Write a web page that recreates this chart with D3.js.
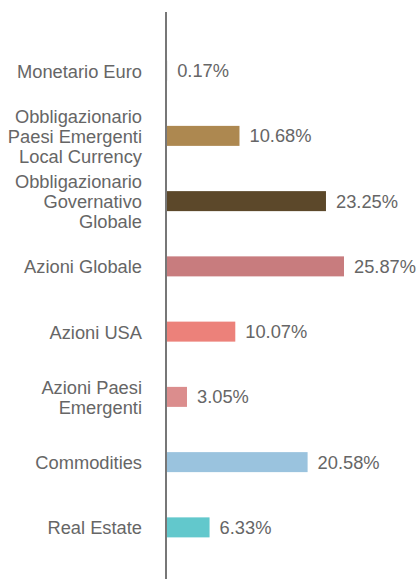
<!DOCTYPE html>
<html>
<head>
<meta charset="utf-8">
<script src="https://cdn.jsdelivr.net/npm/d3@7"></script>
<style>
  html, body { margin: 0; padding: 0; background: #fff; }
  svg { display: block; }
</style>
</head>
<body>
<svg id="chart" width="416" height="579"></svg>
<script>
// Asset classes (label lines) and their weights in %
const categories = [
  ["Monetario Euro"],
  ["Obbligazionario", "Paesi Emergenti", "Local Currency"],
  ["Obbligazionario", "Governativo", "Globale"],
  ["Azioni Globale"],
  ["Azioni USA"],
  ["Azioni Paesi", "Emergenti"],
  ["Commodities"],
  ["Real Estate"]
];
const values = [0.17, 10.68, 23.25, 25.87, 10.07, 3.05, 20.58, 6.33];
const colors = ["#A9A9A9", "#AD8850", "#5C482A", "#C87C7E", "#EC817A", "#DB8D8D", "#9AC3DE", "#62C8CC"];

const W = 416, H = 579;
const axisX = 166;
const barH = 20;
const fontSize = 18.3;
const textColor = "#666666";

const svg = d3.select("#chart");
const keys = categories.map((c, i) => i);

const step = 65.25;
const p = 1 - barH / step;
const y = d3.scaleBand()
  .domain(keys)
  .range([38, 38 + step * keys.length])
  .paddingInner(p)
  .paddingOuter(p / 2);

const x = d3.scaleLinear()
  .domain([0, 25.87])
  .range([axisX, 344]);

// Bars
svg.append("g").selectAll("rect")
  .data(keys)
  .join("rect")
  .attr("x", axisX)
  .attr("y", i => y(i))
  .attr("width", i => x(values[i]) - axisX)
  .attr("height", y.bandwidth())
  .attr("fill", i => colors[i]);

// Vertical axis line
svg.append("line")
  .attr("x1", axisX).attr("x2", axisX)
  .attr("y1", 12).attr("y2", H)
  .attr("stroke", "#777")
  .attr("stroke-width", 2);

// Category labels (right aligned, multi-line)
const lineH = 20;
const labels = svg.append("g")
  .attr("font-family", "'Liberation Sans', Arial, Helvetica, sans-serif")
  .attr("font-size", fontSize)
  .attr("fill", textColor);

keys.forEach(i => {
  const lines = categories[i];
  const cy = y(i) + y.bandwidth() / 2;
  const t = labels.append("text")
    .attr("text-anchor", "end")
    .attr("dominant-baseline", "central");
  lines.forEach((ln, j) => {
    t.append("tspan")
      .attr("x", 142)
      .attr("y", cy + (j - (lines.length - 1) / 2) * lineH)
      .text(ln);
  });
});

// Value labels
svg.append("g")
  .attr("font-family", "'Liberation Sans', Arial, Helvetica, sans-serif")
  .attr("font-size", fontSize)
  .attr("fill", textColor)
  .selectAll("text")
  .data(keys)
  .join("text")
  .attr("x", i => x(values[i]) + 10)
  .attr("y", i => y(i) + y.bandwidth() / 2)
  .attr("dominant-baseline", "central")
  .text(i => values[i].toFixed(2) + "%");
</script>
</body>
</html>
